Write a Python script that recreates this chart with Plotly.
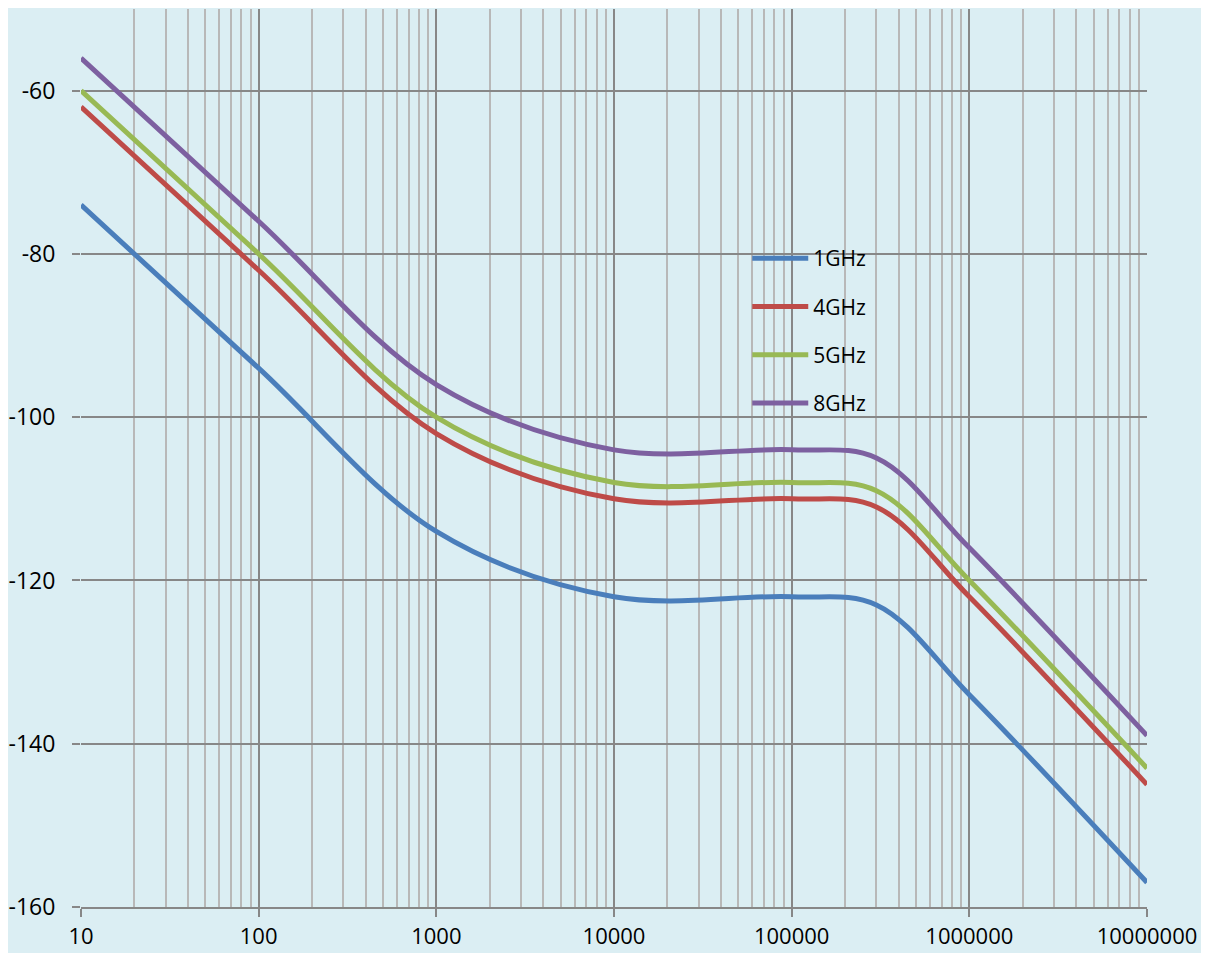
import plotly.graph_objects as go

freq = [10, 100, 1000, 10000, 100000, 300000, 1000000, 10000000]

pn_1ghz = [-74, -94, -114, -122, -122, -123, -134, -157]
pn_4ghz = [-62, -82, -102, -110, -110, -111, -122, -145]
pn_5ghz = [-60, -80, -100, -108, -108, -109, -120, -143]
pn_8ghz = [-56, -76, -96, -104, -104, -105, -116, -139]

series_names = ["1GHz", "4GHz", "5GHz", "8GHz"]
series_values = [pn_1ghz, pn_4ghz, pn_5ghz, pn_8ghz]
series_colors = ["#4A7EBB", "#BE4B48", "#98B954", "#7D60A0"]

x_tickvals = [10, 100, 1000, 10000, 100000, 1000000, 10000000]
x_ticktext = ["10", "100", "1000", "10000", "100000", "1000000", "10000000"]
y_tickvals = [-160, -140, -120, -100, -80, -60]
y_ticktext = ["-160", "-140", "-120", "-100", "-80", "-60"]

minor_vals = [m * 10 ** e for e in range(1, 7) for m in range(2, 10)]

bg = "#DBEEF3"
major_col = "#878787"
minor_col = "#B8B8B8"

fig = go.Figure()
for name, vals, col in zip(series_names, series_values, series_colors):
    fig.add_trace(go.Scatter(
        x=freq, y=vals, name=name, mode="lines",
        line=dict(color=col, width=5, shape="spline", smoothing=1.0),
        legendgroup=name,
    ))

fig.update_layout(
    width=1201, height=945,
    margin=dict(l=73, r=62, t=1, b=46, autoexpand=False),
    paper_bgcolor=bg, plot_bgcolor=bg,
    font=dict(family="Open Sans, sans-serif", color="#000000", size=23),
    showlegend=True,
    legend=dict(
        x=0.625, y=0.745, xanchor="left", yanchor="top",
        bgcolor="rgba(0,0,0,0)", borderwidth=0,
        font=dict(size=21, family="Open Sans, sans-serif"),
        tracegroupgap=18,
        itemwidth=56,
    ),
    xaxis=dict(
        type="log", range=[1, 7], automargin=False,
        tickvals=x_tickvals, ticktext=x_ticktext,
        showgrid=True, gridcolor=major_col, gridwidth=2,
        minor=dict(tickvals=minor_vals, showgrid=True, gridcolor=minor_col, gridwidth=2, ticks=""),
        showline=True, linecolor=major_col, linewidth=2,
        ticks="outside", ticklen=8, tickwidth=2, tickcolor=major_col,
        ticklabelstandoff=1,
        zeroline=False,
        tickfont=dict(size=22),
    ),
    yaxis=dict(
        range=[-160, -50], automargin=False,
        tickvals=y_tickvals, ticktext=y_ticktext,
        showgrid=True, gridcolor=major_col, gridwidth=2,
        showline=False,
        ticks="outside", ticklen=8, tickwidth=2, tickcolor=major_col,
        ticklabelstandoff=12,
        zeroline=False,
        tickfont=dict(size=23),
    ),
)

fig.write_html("out.html")
